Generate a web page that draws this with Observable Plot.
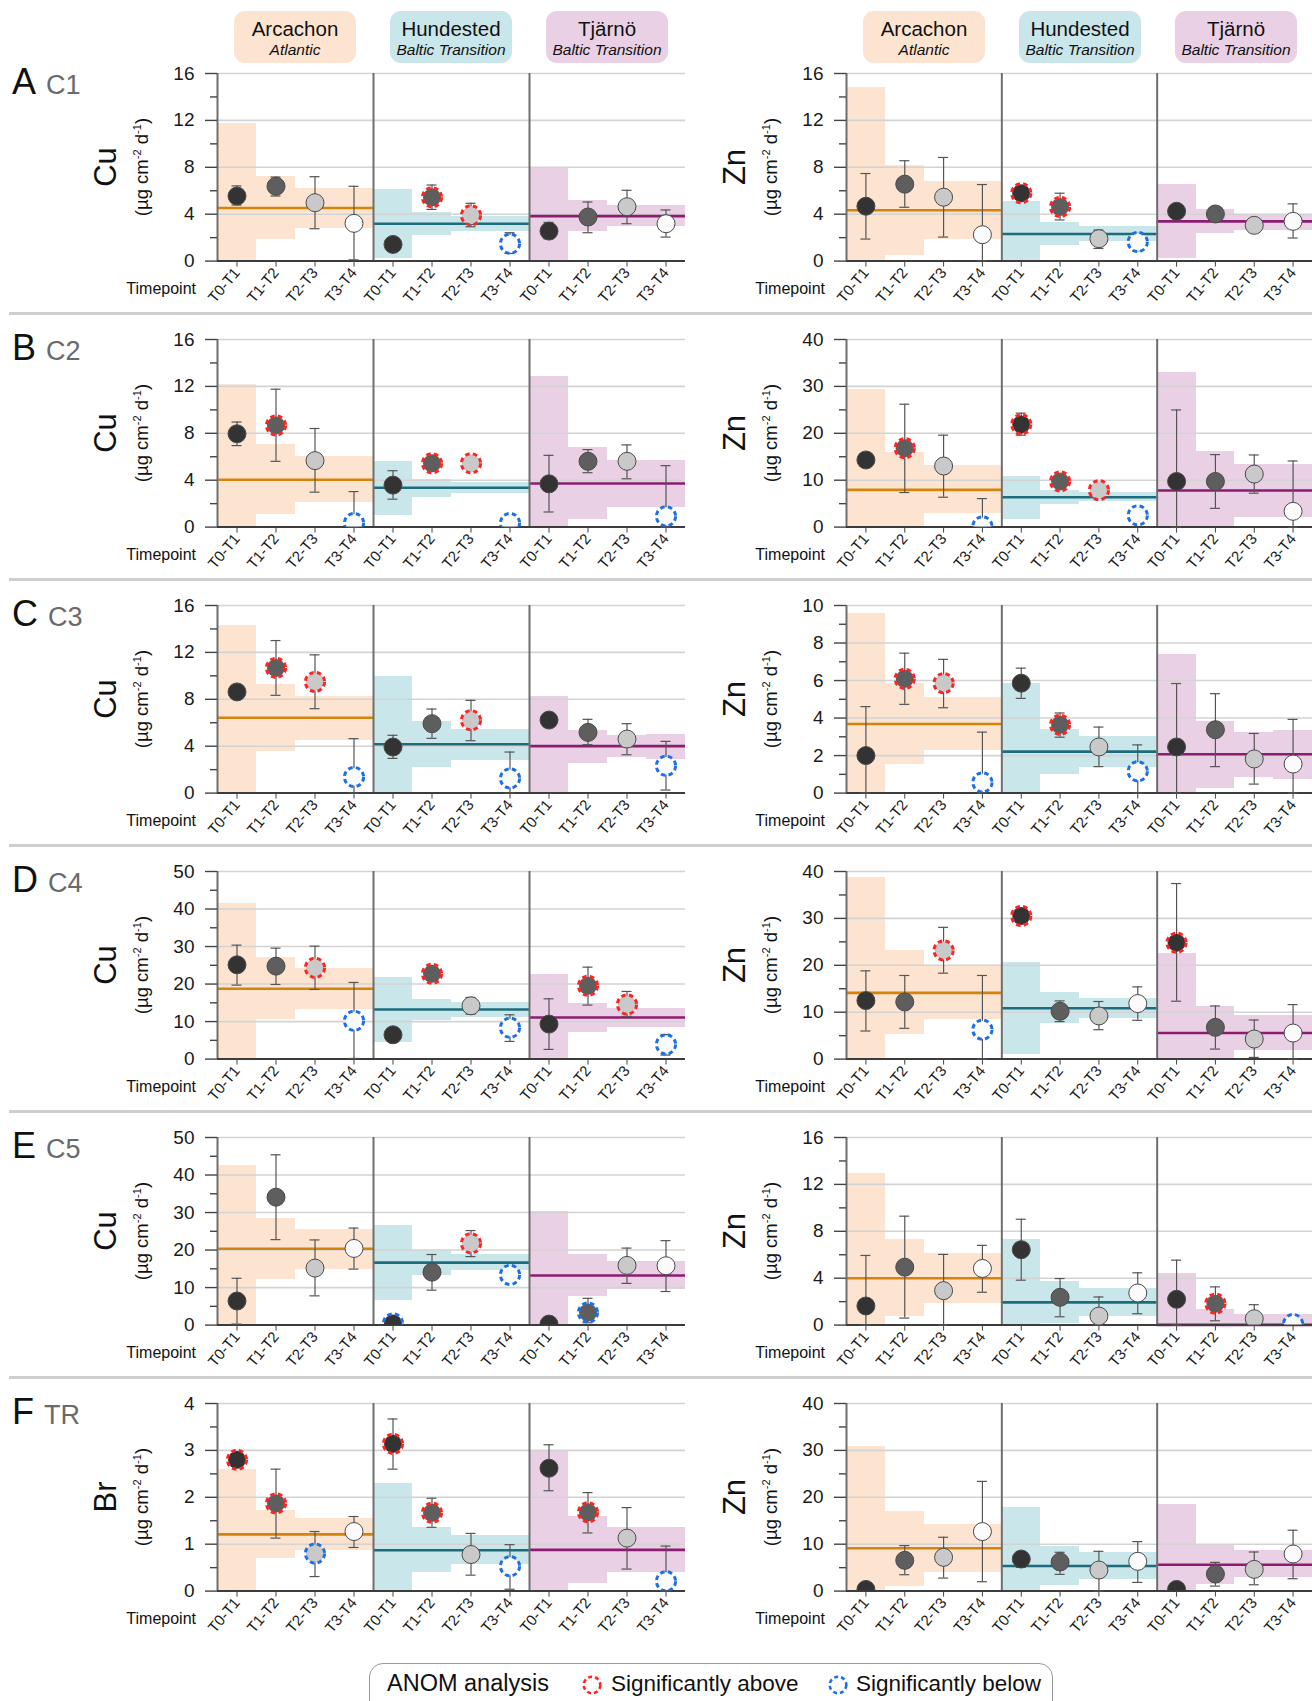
<!DOCTYPE html>
<html><head><meta charset="utf-8">
<script src="https://cdn.jsdelivr.net/npm/d3@7"></script>
<script src="https://cdn.jsdelivr.net/npm/@observablehq/plot@0.6"></script>
<style>
body{margin:0;background:#fff;font-family:"Liberation Sans",Arial,sans-serif;color:#111;}
#root{position:relative;width:1312px;height:1701px;overflow:hidden;background:#fff;}
.abs{position:absolute;white-space:nowrap;}
.rot{position:absolute;white-space:nowrap;transform:translate(-50%,-50%) rotate(-90deg);}
sup{font-size:60%;vertical-align:0.55em;line-height:0;}
</style></head><body><div id="root"></div>
<script>
// ---------- categories ----------
const sites = ["Arcachon","Hundested","Tjärnö"];
const regions = ["Atlantic","Baltic Transition","Baltic Transition"];
const timepoints = ["T0-T1","T1-T2","T2-T3","T3-T4"];
const rowLetters = ["A","B","C","D","E","F"];
const rowCodes = ["C1","C2","C3","C4","C5","TR"];
const leftElements = ["Cu","Cu","Cu","Cu","Cu","Br"];
const rightElements = ["Zn","Zn","Zn","Zn","Zn","Zn"];
const leftMax = [16,16,16,50,50,4];
const leftStep = [4,4,4,10,10,1];
const rightMax = [16,40,10,40,16,40];
const rightStep = [4,10,2,10,4,10];
// sig: "a" = significantly above, "b" = significantly below

// ---------- A: C1 ----------
const A_Cu_mean  = [5.55,6.38,4.98,3.22, 1.42,5.44,3.90,1.48, 2.56,3.76,4.64,3.19];
const A_Cu_hi    = [6.41,7.17,7.20,6.38, null,6.49,4.93,2.42, 3.30,5.04,6.04,4.36];
const A_Cu_lo    = [4.78,5.55,2.76,0.11, null,4.41,2.93,0.65, 1.90,2.42,3.19,2.05];
const A_Cu_limHi = [11.73,7.20,6.23,6.23, 6.12,4.18,3.84,3.84, 7.89,5.21,4.75,4.75];
const A_Cu_limLo = [0,1.88,2.79,2.79, 0.23,2.19,2.56,2.56, 0,2.51,2.96,2.96];
const A_Cu_center = [4.53,3.19,3.84];
const A_Cu_sig = ["","","","", "","a","a","b", "","","",""];

const A_Zn_mean  = [4.68,6.56,5.45,2.25, 5.79,4.62,1.91,1.63, 4.25,4.02,3.05,3.39];
const A_Zn_hi    = [7.47,8.56,8.84,6.53, null,5.79,2.65,2.25, null,null,null,4.88];
const A_Zn_lo    = [1.88,4.59,2.05,0, null,3.51,1.08,0.88, null,null,null,1.97];
const A_Zn_limHi = [14.77,8.16,6.82,6.82, 5.10,3.25,2.91,2.91, 6.50,4.39,3.99,3.99];
const A_Zn_limLo = [0,0.48,1.83,1.83, 0,1.34,1.71,1.71, 0.23,2.34,2.65,2.65];
const A_Zn_center = [4.34,2.31,3.39];
const A_Zn_sig = ["","","","", "a","a","","b", "","","",""];

// ---------- B: C2 ----------
const B_Cu_mean  = [7.96,8.67,5.67,0.34, 3.58,5.44,5.44,0.34, 3.69,5.61,5.61,0.92];
const B_Cu_hi    = [8.96,11.76,8.41,3.03, 4.81,null,null,0.97, 6.12,6.61,7.01,5.24];
const B_Cu_lo    = [6.95,5.61,2.98,0, 2.38,null,null,0, 1.29,4.64,4.12,0];
const B_Cu_limHi = [12.16,7.04,6.01,6.01, 5.61,4.06,3.78,3.78, 12.85,6.75,5.72,5.72];
const B_Cu_limLo = [0,1.06,2.09,2.09, 1.00,2.55,2.83,2.83, 0,0.66,1.63,1.63];
const B_Cu_center = [4.04,3.35,3.72];
const B_Cu_sig = ["","a","","b", "","a","a","b", "","","","b"];

const B_Zn_mean  = [14.31,16.82,13.02,0.14, 21.9,9.73,7.87,2.5, 9.73,9.73,11.31,3.36];
const B_Zn_hi    = [null,26.2,19.6,6.08, 24.3,null,null,null, 24.98,15.46,15.38,14.1];
const B_Zn_lo    = [null,7.37,6.37,0, 19.6,null,null,null, 0,4.0,7.23,0];
const B_Zn_limHi = [29.34,15.81,13.1,13.1, 10.88,7.87,7.44,7.44, 33.06,16.17,13.38,13.38];
const B_Zn_limLo = [0,0,2.93,2.93, 1.72,4.79,5.37,5.37, 0,0,2.15,2.15];
const B_Zn_center = [7.94,6.37,7.8];
const B_Zn_sig = ["","a","","b", "a","a","a","b", "","","",""];

// ---------- C: C3 ----------
const C_Cu_mean  = [8.63,10.68,9.48,1.37, 3.93,5.92,6.21,1.25, 6.23,5.18,4.61,2.33];
const C_Cu_hi    = [null,13.01,11.79,4.64, 4.93,7.17,7.91,3.5, null,6.29,5.92,4.41];
const C_Cu_lo    = [null,8.34,7.2,0, 2.96,4.67,4.47,0, null,4.13,3.27,0.26];
const C_Cu_limHi = [14.32,9.28,8.26,8.26, 9.96,6.09,5.41,5.41, 8.23,5.35,4.93,5.01];
const C_Cu_limLo = [0,3.53,4.5,4.5, 0,2.16,2.79,2.79, 0,2.53,3.02,2.9];
const C_Cu_center = [6.43,4.16,4.01];
const C_Cu_sig = ["","a","a","b", "","","a","b", "","","","b"];

const C_Zn_mean  = [2.0,6.09,5.86,0.57, 5.86,3.64,2.46,1.16, 2.46,3.38,1.82,1.55];
const C_Zn_hi    = [4.61,7.46,7.13,3.25, 6.66,4.27,3.52,2.57, 5.84,5.3,3.18,3.93];
const C_Zn_lo    = [0,4.73,4.55,0, 5.05,2.98,1.41,0, 0,1.41,0.48,0];
const C_Zn_limHi = [9.57,5.84,5.07,5.07, 5.86,3.41,3.02,3.02, 7.38,3.79,3.21,3.36];
const C_Zn_limLo = [0,1.52,2.25,2.25, 0,1.0,1.39,1.39, 0,0.25,0.84,0.71];
const C_Zn_center = [3.68,2.21,2.07];
const C_Zn_sig = ["","a","a","b", "","a","","b", "","","",""];

// ---------- D: C4 ----------
const D_Cu_mean  = [25.13,24.78,24.33,10.21, 6.48,22.74,14.21,8.35, 9.33,19.54,14.56,3.91];
const D_Cu_hi    = [30.37,29.57,30.1,20.43, null,null,16.43,11.81, 16.07,24.51,18.03,6.57];
const D_Cu_lo    = [19.72,19.89,18.56,0.18, null,null,11.99,4.71, 2.58,14.39,11.37,1.07];
const D_Cu_limHi = [41.47,27.0,24.07,24.07, 21.85,15.99,15.1,15.1, 22.56,14.83,13.59,13.59];
const D_Cu_limLo = [0,10.48,13.23,13.23, 4.44,10.39,11.19,11.19, 0,7.1,8.53,8.53];
const D_Cu_center = [18.74,13.23,11.1];
const D_Cu_sig = ["","","a","b", "","a","","b", "","a","a","b"];

const D_Zn_mean  = [12.48,12.19,23.17,6.27, 30.52,10.2,9.2,11.84, 24.81,6.77,4.28,5.56];
const D_Zn_hi    = [18.82,17.83,28.09,17.83, null,12.41,12.28,15.4, 37.43,11.33,8.34,11.62];
const D_Zn_lo    = [5.99,6.56,18.32,0, null,7.99,6.27,8.27, 12.34,2.14,0.36,0];
const D_Zn_limHi = [38.65,23.17,19.96,19.96, 20.68,14.12,12.91,12.91, 22.6,11.19,9.34,9.34];
const D_Zn_limLo = [0,5.2,8.34,8.34, 1.0,7.56,8.7,8.7, 0,0,1.85,1.85];
const D_Zn_center = [14.12,10.84,5.56];
const D_Zn_sig = ["","","a","b", "a","","","", "a","","",""];

// ---------- E: C5 ----------
const E_Cu_mean  = [6.42,34.09,15.19,20.43, 0.45,14.1,21.79,13.38, 0.27,3.35,15.91,15.82];
const E_Cu_hi    = [12.48,45.39,22.7,25.86, null,18.81,25.2,null, null,7.14,20.52,22.51];
const E_Cu_lo    = [0.27,22.78,7.8,14.92, null,9.31,18.26,null, null,0.63,11.12,8.95];
const E_Cu_limHi = [42.5,28.39,25.5,25.5, 26.58,19.89,18.72,18.72, 30.29,18.81,17.0,17.0];
const E_Cu_limLo = [0,12.2,14.92,14.92, 6.6,13.2,14.47,14.47, 0,7.5,9.4,9.4];
const E_Cu_center = [20.34,16.64,13.2];
const E_Cu_sig = ["","","","", "b","","a","b", "","b","",""];

const E_Zn_mean  = [1.63,4.94,2.94,4.83, 6.43,2.37,0.77,2.74, 2.2,1.83,0.54,0.09];
const E_Zn_hi    = [5.94,9.29,6.03,6.8, 9.03,3.97,2.4,4.46, 5.54,3.26,1.74,null];
const E_Zn_lo    = [0,0.6,0,2.8, 3.83,0.71,0,0.97, 0,0.37,0,null];
const E_Zn_limHi = [12.89,7.26,6.09,6.09, 7.29,3.71,3.14,3.14, 4.4,1.37,0.89,0.89];
const E_Zn_limLo = [0,0.74,1.86,1.86, 0,0.14,0.77,0.77, 0,0,0,0];
const E_Zn_center = [4.0,1.94,0.02];
const E_Zn_sig = ["","","","", "","","","", "","a","","b"];

// ---------- F: TR ----------
const F_Br_mean  = [2.8,1.87,0.8,1.27, 3.14,1.67,0.78,0.53, 2.62,1.68,1.13,0.21];
const F_Br_hi    = [null,2.6,1.27,1.59, 3.67,1.98,1.23,0.99, 3.12,2.1,1.78,0.96];
const F_Br_lo    = [null,1.13,0.31,0.93, 2.6,1.36,0.34,0.04, 2.14,1.24,0.47,0];
const F_Br_limHi = [2.6,1.72,1.54,1.54, 2.29,1.35,1.19,1.19, 2.97,1.58,1.35,1.35];
const F_Br_limLo = [0,0.69,0.86,0.86, 0,0.4,0.56,0.56, 0,0.17,0.4,0.4];
const F_Br_center = [1.21,0.87,0.88];
const F_Br_sig = ["a","a","b","", "a","a","","b", "","a","","b"];

const F_Zn_mean  = [0.36,6.56,7.2,12.69, 6.84,6.2,4.49,6.35, 0.36,3.64,4.63,7.91];
const F_Zn_hi    = [null,9.7,11.48,23.39, 8.2,8.27,8.48,10.55, null,6.13,8.34,12.98];
const F_Zn_lo    = [null,3.49,2.78,2.0, 5.06,3.57,0,1.85, null,1.07,1.35,2.64];
const F_Zn_limHi = [30.8,17.04,14.26,14.26, 17.9,9.48,8.13,8.13, 18.47,9.91,8.56,8.56];
const F_Zn_limLo = [0,1.07,3.92,3.92, 0,1.14,2.5,2.5, 0,1.35,2.85,2.85];
const F_Zn_center = [9.13,5.35,5.63];
const F_Zn_sig = ["","","","", "","","","", "","","",""];

// ---------- assemble ----------
const mk = (mean,hi,lo,limHi,limLo,center,sig) => ({mean,hi,lo,limHi,limLo,center,sig});
const leftPanels = [
  mk(A_Cu_mean,A_Cu_hi,A_Cu_lo,A_Cu_limHi,A_Cu_limLo,A_Cu_center,A_Cu_sig),
  mk(B_Cu_mean,B_Cu_hi,B_Cu_lo,B_Cu_limHi,B_Cu_limLo,B_Cu_center,B_Cu_sig),
  mk(C_Cu_mean,C_Cu_hi,C_Cu_lo,C_Cu_limHi,C_Cu_limLo,C_Cu_center,C_Cu_sig),
  mk(D_Cu_mean,D_Cu_hi,D_Cu_lo,D_Cu_limHi,D_Cu_limLo,D_Cu_center,D_Cu_sig),
  mk(E_Cu_mean,E_Cu_hi,E_Cu_lo,E_Cu_limHi,E_Cu_limLo,E_Cu_center,E_Cu_sig),
  mk(F_Br_mean,F_Br_hi,F_Br_lo,F_Br_limHi,F_Br_limLo,F_Br_center,F_Br_sig)
];
const rightPanels = [
  mk(A_Zn_mean,A_Zn_hi,A_Zn_lo,A_Zn_limHi,A_Zn_limLo,A_Zn_center,A_Zn_sig),
  mk(B_Zn_mean,B_Zn_hi,B_Zn_lo,B_Zn_limHi,B_Zn_limLo,B_Zn_center,B_Zn_sig),
  mk(C_Zn_mean,C_Zn_hi,C_Zn_lo,C_Zn_limHi,C_Zn_limLo,C_Zn_center,C_Zn_sig),
  mk(D_Zn_mean,D_Zn_hi,D_Zn_lo,D_Zn_limHi,D_Zn_limLo,D_Zn_center,D_Zn_sig),
  mk(E_Zn_mean,E_Zn_hi,E_Zn_lo,E_Zn_limHi,E_Zn_limLo,E_Zn_center,E_Zn_sig),
  mk(F_Zn_mean,F_Zn_hi,F_Zn_lo,F_Zn_limHi,F_Zn_limLo,F_Zn_center,F_Zn_sig)
];

// ---------- style ----------
const FONT = '"Liberation Sans", Arial, sans-serif';
const NARROW = '"Liberation Sans Narrow", "Arial Narrow", "Liberation Sans", sans-serif';
const siteFill = ["#fde4d1","#c9e6ea","#e9d0e4"];
const siteLine = ["#d4830b","#1d6c7e","#8c1c72"];
const tpFill = ["#333333","#5e5e5e","#c9c9c9","#fbfbfb"];
const ROW_H = 266, TOP0 = 72.7, PLOT_H = 187.6, MT = 12, SVG_H = 250;
const COLS = [
  {left:0, width:700, ml:217, mr:15},
  {left:700, width:612, ml:146, mr:0}
];

const root = document.getElementById("root");
function add(html, css, cls="abs"){
  const d = document.createElement("div");
  d.className = cls; d.innerHTML = html; d.style.cssText = css;
  root.appendChild(d); return d;
}
// baseline helper: line-height = font size -> baseline at 0.8465*f from top
function textAt(html, x, baseline, f, extra="", anchorRight=false){
  const top = baseline - 0.8465*f;
  const pos = anchorRight ? `right:${1312-x}px;` : `left:${x}px;`;
  return add(html, `${pos}top:${top}px;font-size:${f}px;line-height:${f}px;${extra}`);
}

function tableOf(p){
  return d3.range(12).map(i => ({
    x: i+0.5, x1: i, x2: i+1, s: Math.floor(i/4), t: i%4,
    mean: p.mean[i], hi: p.hi[i], lo: p.lo[i],
    limHi: p.limHi[i], limLo: p.limLo[i], sig: p.sig[i]
  }));
}

function drawPanel(p, max, step, col){
  const rows = tableOf(p);
  const centers = p.center.map((c,s) => ({c, s, x1: s*4, x2: s*4+4}));
  const majors = d3.range(0, max + step/2, step);
  const minors = d3.range(step/2, max, step);
  const err = rows.filter(d => d.hi != null);
  return Plot.plot({
    width: col.width, height: SVG_H,
    marginTop: MT, marginBottom: SVG_H - MT - PLOT_H, marginLeft: col.ml, marginRight: col.mr,
    x: {domain: [0,12]},
    y: {domain: [0,max]},
    color: {type: "identity"},
    style: {fontFamily: FONT, color: "#1a1a1a", background: "transparent", overflow: "visible"},
    marks: [
      Plot.rect(rows, {x1:"x1", x2:"x2", y1:"limLo", y2:"limHi", fill: d => siteFill[d.s], shapeRendering: "crispEdges"}),
      Plot.ruleY(majors.filter(v => v > 0), {stroke: "#d3d3d3", strokeWidth: 1.6}),
      Plot.ruleY(centers, {y: "c", x1: "x1", x2: "x2", stroke: d => siteLine[d.s], strokeWidth: 2.6}),
      Plot.ruleX([0,4,8], {y1: 0, y2: max, stroke: "#6e6e6e", strokeWidth: 2}),
      Plot.ruleY([0], {stroke: "#3c3c3c", strokeWidth: 2}),
      Plot.axisY({ticks: minors, tickSize: 7, tickFormat: () => "", stroke: "#444", strokeWidth: 1.4, label: null}),
      Plot.axisY({ticks: majors, tickSize: 12, tickPadding: 11, fontSize: 19, stroke: "#444", strokeWidth: 1.4, label: null, tickFormat: d => String(d)}),
      Plot.axisX({ticks: rows.map(d => d.x), tickSize: 6, tickPadding: 3, tickRotate: -50, fontSize: 15, fontFamily: NARROW,
                  tickFormat: d => timepoints[Math.floor(d) % 4], label: null, stroke: "#444"}),
      Plot.ruleX(err, {x: "x", y1: "lo", y2: "hi", stroke: "#555", strokeWidth: 1.2}),
      Plot.ruleY(err, {y: "hi", x1: "x", x2: "x", insetLeft: -5, insetRight: -5, stroke: "#555", strokeWidth: 1.2}),
      Plot.ruleY(err, {y: "lo", x1: "x", x2: "x", insetLeft: -5, insetRight: -5, stroke: "#555", strokeWidth: 1.2}),
      Plot.dot(rows, {x: "x", y: "mean", r: 9, fill: d => tpFill[d.t], stroke: d => d.sig ? "none" : "#4a4a4a", strokeWidth: 1, clip: true}),
      Plot.dot(rows.filter(d => d.sig), {x: "x", y: "mean", r: 9.6, fill: "none",
        stroke: d => d.sig === "a" ? "#ff2424" : "#1c6fe6", strokeWidth: 3, strokeDasharray: "4.6,3.2", clip: true})
    ]
  });
}

// ---------- headers ----------
const SITE_W = 468/3;
COLS.forEach(col => {
  const ax = col.left + col.ml;
  sites.forEach((s, i) => {
    const bx = ax + i*SITE_W + (SITE_W - 122)/2;
    add("", `left:${bx}px;top:11px;width:122px;height:52px;border-radius:11px;background:${siteFill[i]};`);
    add(s, `left:${bx}px;top:${36-0.8465*20.5}px;width:122px;text-align:center;font-size:20.5px;line-height:20.5px;`);
    add(regions[i], `left:${bx}px;top:${55-0.8465*15.5}px;width:122px;text-align:center;font-size:15.5px;line-height:15.5px;font-style:italic;`);
  });
});

// ---------- rows ----------
for (let r = 0; r < 6; r++){
  const plotTop = TOP0 + r*ROW_H;
  const plotBottom = plotTop + PLOT_H;
  const mid = plotTop + PLOT_H/2;
  if (r > 0) add("", `left:9px;top:${plotTop-27}px;width:1303px;height:3px;background:#cfcfcf;`);
  textAt(`${rowLetters[r]}<span style="font-size:27px;color:#6a6a6a;margin-left:10px;">${rowCodes[r]}</span>`, 12, plotTop+22, 36);
  [[leftPanels[r], leftMax[r], leftStep[r], leftElements[r], COLS[0]],
   [rightPanels[r], rightMax[r], rightStep[r], rightElements[r], COLS[1]]].forEach(([p, max, step, el, col]) => {
    const svg = drawPanel(p, max, step, col);
    const wrap = add("", `left:${col.left}px;top:${plotTop-MT}px;width:${col.width}px;height:${SVG_H}px;`);
    wrap.appendChild(svg);
    const ax = col.left + col.ml;
    add(el, `left:${ax-112}px;top:${mid}px;font-size:31px;line-height:31px;`, "rot");
    add(`(µg cm<sup>-2</sup> d<sup>-1</sup>)`, `left:${ax-76}px;top:${mid}px;font-size:18.5px;line-height:19px;`, "rot");
    textAt("Timepoint", ax-21, plotBottom+34.5, 16, `font-family:${NARROW};`, true);
  });
}

// ---------- legend ----------
add("", `left:369px;top:1663px;width:684px;height:60px;border:1.5px solid #9a9a9a;border-radius:14px;box-sizing:border-box;`);
textAt("ANOM analysis", 387, 1692, 23.5);
const circ = c => `<svg width="24" height="24" style="display:block"><circle cx="12" cy="12" r="8.3" fill="none" stroke="${c}" stroke-width="2.6" stroke-dasharray="4,3"/></svg>`;
add(circ("#ff2424"), `left:${592-12}px;top:${1685-12}px;`);
textAt("Significantly above", 611, 1692, 22.5);
add(circ("#1c6fe6"), `left:${838-12}px;top:${1685-12}px;`);
textAt("Significantly below", 856, 1692, 22.5);
</script></body></html>
